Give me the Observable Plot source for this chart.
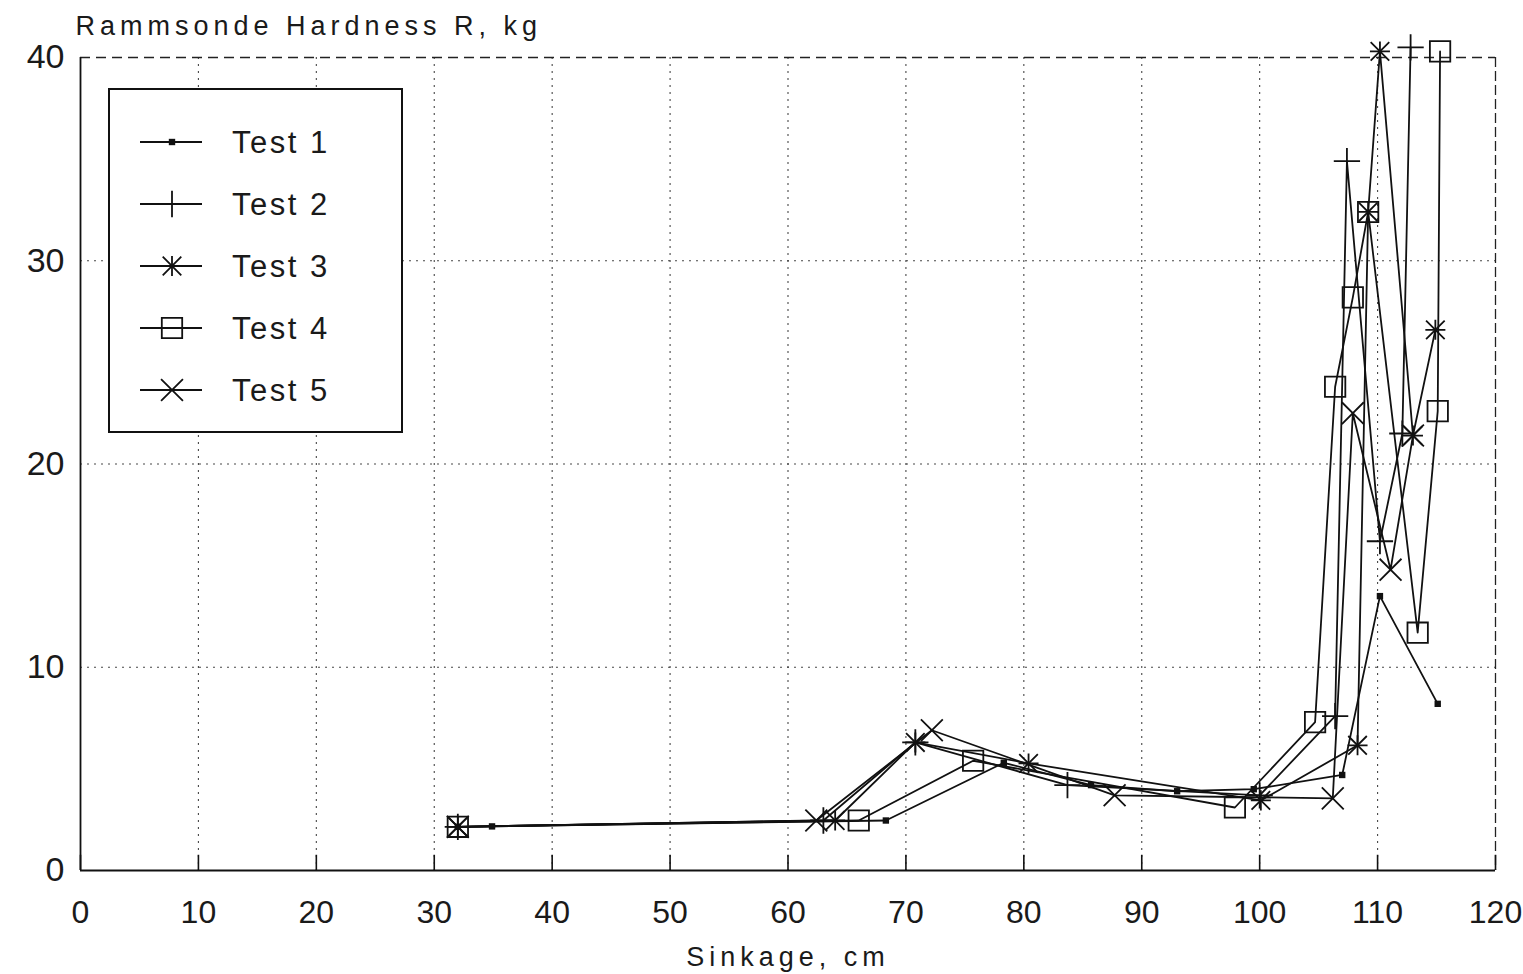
<!DOCTYPE html>
<html><head><meta charset="utf-8">
<script src="https://cdn.jsdelivr.net/npm/d3@7"></script>
<script src="https://cdn.jsdelivr.net/npm/@observablehq/plot@0.6"></script>
<style>
body{margin:0;background:#fff;}
#wrap{position:relative;width:1523px;height:974px;font-family:"Liberation Sans",Arial,sans-serif;}
#legend{position:absolute;left:108px;top:88px;width:295px;height:345px;border:2px solid #111;background:#fff;box-sizing:border-box;}
</style></head><body><div id="wrap"><div id="legend"></div></div>
<script>
// ---- data ----
const seriesNames = ["Test 1","Test 2","Test 3","Test 4","Test 5"];
const xTicks = [0,10,20,30,40,50,60,70,80,90,100,110,120];
const yTicks = [0,10,20,30,40];
const test1X = [32, 34.9, 68.3, 78.3, 85.7, 93, 99.5, 107, 110.2, 115.1];
const test1Y = [2.15, 2.17, 2.46, 5.3, 4.2, 3.9, 4.0, 4.7, 13.5, 8.2];
const test2X = [32, 63, 70.8, 83.7, 100, 106.4, 107.4, 110.2, 112.1, 112.8];
const test2Y = [2.15, 2.46, 6.3, 4.2, 3.7, 7.6, 34.9, 16.2, 21.5, 40.5];
const test3X = [32, 64, 70.8, 80.4, 100.1, 108.3, 109.2, 110.2, 113, 114.9];
const test3Y = [2.15, 2.46, 6.3, 5.27, 3.45, 6.16, 32.4, 40.3, 21.4, 26.6];
const test4X = [32, 66, 75.7, 97.9, 104.7, 106.4, 107.9, 109.2, 113.4, 115.1, 115.3];
const test4Y = [2.15, 2.46, 5.4, 3.1, 7.3, 23.8, 28.2, 32.4, 11.7, 22.6, 40.3];
const test5X = [32, 62.4, 72.2, 87.7, 106.2, 107.9, 111.1, 113];
const test5Y = [2.15, 2.46, 6.9, 3.7, 3.55, 22.5, 14.8, 21.4];
const xLabel = "Sinkage, cm";
const yLabel = "Rammsonde Hardness R, kg";

const allX = [test1X,test2X,test3X,test4X,test5X];
const allY = [test1Y,test2Y,test3Y,test4Y,test5Y];
const rows = [];
seriesNames.forEach((s,i)=>allX[i].forEach((x,j)=>rows.push({series:s,x,y:allY[i][j]})));
const bySeries = s => rows.filter(d=>d.series===s);

const ink = "#111";
const textInk = "#1a1a1a";
const sw = 1.8;
// marker styles (radius in Plot's r units)
const markers = {
  "Test 1":[{symbol:"square", fill:ink, stroke:"none", r:3.6}],
  "Test 2":[{symbol:"plus", fill:"none", stroke:ink, r:8.5}],
  "Test 3":[{symbol:"plus", fill:"none", stroke:ink, r:6.5},{symbol:"times", fill:"none", stroke:ink, r:8.5}],
  "Test 4":[{symbol:"square", fill:"none", stroke:ink, r:11.5}],
  "Test 5":[{symbol:"times", fill:"none", stroke:ink, r:10}]
};

const dotMarks = [];
seriesNames.forEach(s=>markers[s].forEach(m=>dotMarks.push(
  Plot.dot(bySeries(s), {x:"x", y:"y", symbol:()=>m.symbol, r:m.r, fill:m.fill, stroke:m.stroke, strokeWidth:sw})
)));

const chart = Plot.plot({
  width:1523, height:974,
  marginLeft:80, marginRight:28, marginTop:57, marginBottom:104,
  x:{domain:[0,120], label:null},
  y:{domain:[0,40], label:null},
  style:{fontFamily:'"Liberation Sans",Arial,sans-serif', background:"#fff", color:textInk},
  marks:[
    Plot.gridX(xTicks.filter(t=>t>0 && t<120), {stroke:"#333", strokeOpacity:0.9, strokeWidth:1.1, strokeDasharray:"2,5"}),
    Plot.gridY(yTicks.filter(t=>t>0 && t<40), {stroke:"#333", strokeOpacity:0.9, strokeWidth:1.1, strokeDasharray:"2,5"}),
    Plot.ruleY([40], {stroke:"#222", strokeWidth:1.3, strokeDasharray:"10,6"}),
    Plot.ruleX([120], {stroke:"#222", strokeWidth:1.3, strokeDasharray:"10,4"}),
    Plot.ruleX(xTicks, {y1:0, y2:0.75, stroke:ink, strokeWidth:1.6}),
    Plot.ruleX([0], {stroke:ink, strokeWidth:1.8}),
    Plot.ruleY([0], {stroke:ink, strokeWidth:1.8}),
    Plot.axisX({ticks:xTicks, tickSize:0, tickPadding:30, fontSize:32, tickFormat:d=>String(d), label:null, ariaLabel:"x-axis"}),
    Plot.axisY({ticks:yTicks, tickSize:0, tickPadding:16, fontSize:34, tickFormat:d=>String(d), label:null, ariaLabel:"y-axis"}),
    Plot.text([xLabel], {frameAnchor:"bottom", dy:95, fontSize:27, fill:textInk}),
    Plot.text([yLabel], {frameAnchor:"top-left", textAnchor:"start", dx:-5, dy:-42, fontSize:27, fill:textInk}),
    Plot.line(rows, {x:"x", y:"y", z:"series", stroke:ink, strokeWidth:sw}),
    ...dotMarks
  ]
});
document.getElementById("wrap").prepend(chart);

// letter spacing tweaks to match the wide reference text
d3.select(chart).selectAll('g[aria-label="y-axis"] text').style("letter-spacing","1.5px");
d3.select(chart).selectAll('g[aria-label="x-axis"] text').style("letter-spacing","0px");
d3.select(chart).selectAll('g[aria-label="text"] text').style("letter-spacing","5px");

// ---- legend (HTML overlay with SVG symbols) ----
const symMap = {square:d3.symbolSquare, plus:d3.symbolPlus, times:d3.symbolTimes};
const lg = d3.select("#legend").append("svg").attr("width",291).attr("height",341)
  .style("font-family",'"Liberation Sans",Arial,sans-serif');
seriesNames.forEach((s,i)=>{
  const cy = 52 + i*62;
  const g = lg.append("g").attr("transform",`translate(0,${cy})`);
  g.append("line").attr("x1",30).attr("x2",92).attr("y1",0).attr("y2",0).attr("stroke",ink).attr("stroke-width",sw);
  markers[s].forEach(m=>{
    g.append("path").attr("transform","translate(62,0)")
      .attr("d", d3.symbol(symMap[m.symbol], Math.PI*m.r*m.r)())
      .attr("fill", m.fill).attr("stroke", m.stroke).attr("stroke-width", sw);
  });
  g.append("text").attr("x",122).attr("y",0).attr("dy","0.36em")
    .attr("font-size",31).attr("fill",textInk).style("letter-spacing","2.5px").text(s);
});
</script></body></html>
